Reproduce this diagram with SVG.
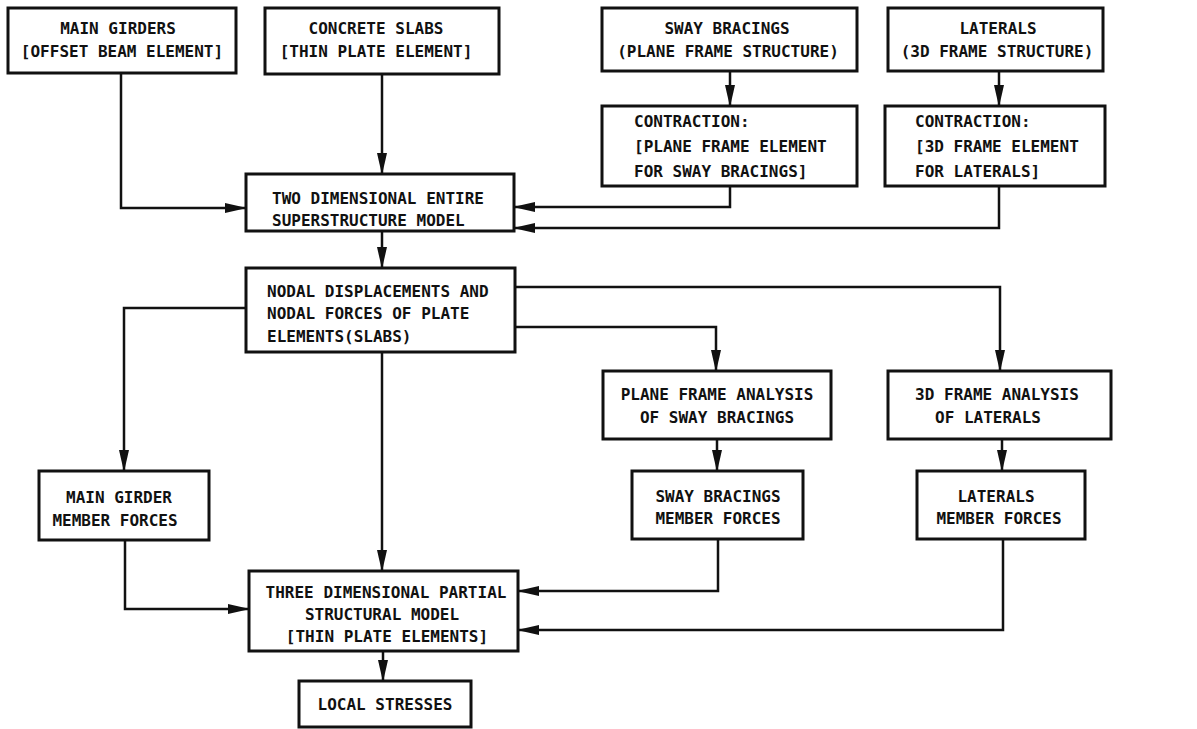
<svg xmlns="http://www.w3.org/2000/svg" width="1197" height="729" viewBox="0 0 1197 729">
<defs>
<marker id="ah" markerUnits="userSpaceOnUse" markerWidth="22" markerHeight="10" refX="21" refY="5" orient="auto">
<path d="M0,0 L22,5 L0,10 z" fill="#111"/>
</marker>
<style>
.box{fill:#fff;stroke:#111;stroke-width:3}
.t{font-family:"DejaVu Sans Mono","Liberation Mono",monospace;font-size:16px;font-weight:bold;fill:#111}
.c{text-anchor:middle}
.ln{fill:none;stroke:#111;stroke-width:2.5}
</style>
</defs>
<rect width="1197" height="729" fill="#fff"/>
<g id="connectors">
<path class="ln" d="M121,73 V208 H246" marker-end="url(#ah)"/>
<path class="ln" d="M382,74 V174" marker-end="url(#ah)"/>
<path class="ln" d="M730,71 V106" marker-end="url(#ah)"/>
<path class="ln" d="M999,71 V106" marker-end="url(#ah)"/>
<path class="ln" d="M730,186 V207 H514" marker-end="url(#ah)"/>
<path class="ln" d="M999,186 V228 H514" marker-end="url(#ah)"/>
<path class="ln" d="M382,231 V268" marker-end="url(#ah)"/>
<path class="ln" d="M246,308 H124 V471" marker-end="url(#ah)"/>
<path class="ln" d="M515,287 H1000 V371" marker-end="url(#ah)"/>
<path class="ln" d="M515,327 H716 V371" marker-end="url(#ah)"/>
<path class="ln" d="M382,352 V571" marker-end="url(#ah)"/>
<path class="ln" d="M717,439 V471" marker-end="url(#ah)"/>
<path class="ln" d="M1002,439 V471" marker-end="url(#ah)"/>
<path class="ln" d="M125,540 V609 H249" marker-end="url(#ah)"/>
<path class="ln" d="M718,539 V591 H518" marker-end="url(#ah)"/>
<path class="ln" d="M1003,539 V630 H518" marker-end="url(#ah)"/>
<path class="ln" d="M383,651 V681" marker-end="url(#ah)"/>
</g>
<g id="main-girders">
<rect class="box" x="8" y="8" width="228" height="65"/>
<text class="t c" x="118" y="34">MAIN GIRDERS</text>
<text class="t c" x="122" y="57">[OFFSET BEAM ELEMENT]</text>
</g>
<g id="concrete-slabs">
<rect class="box" x="265" y="8" width="234" height="66"/>
<text class="t c" x="376" y="34">CONCRETE SLABS</text>
<text class="t c" x="376" y="57">[THIN PLATE ELEMENT]</text>
</g>
<g id="sway-bracings">
<rect class="box" x="602" y="8" width="255" height="63"/>
<text class="t c" x="727" y="34">SWAY BRACINGS</text>
<text class="t c" x="728" y="57">(PLANE FRAME STRUCTURE)</text>
</g>
<g id="laterals">
<rect class="box" x="888" y="8" width="215" height="63"/>
<text class="t c" x="998" y="34">LATERALS</text>
<text class="t c" x="997" y="57">(3D FRAME STRUCTURE)</text>
</g>
<g id="contraction-sway">
<rect class="box" x="602" y="106" width="255" height="80"/>
<text class="t" x="634" y="127">CONTRACTION:</text>
<text class="t" x="634" y="152">[PLANE FRAME ELEMENT</text>
<text class="t" x="634" y="177">FOR SWAY BRACINGS]</text>
</g>
<g id="contraction-laterals">
<rect class="box" x="885" y="106" width="220" height="80"/>
<text class="t" x="915" y="127">CONTRACTION:</text>
<text class="t" x="915" y="152">[3D FRAME ELEMENT</text>
<text class="t" x="915" y="177">FOR LATERALS]</text>
</g>
<g id="two-dimensional-model">
<rect class="box" x="246" y="174" width="268" height="57"/>
<text class="t" x="272" y="204">TWO DIMENSIONAL ENTIRE</text>
<text class="t" x="272" y="226">SUPERSTRUCTURE MODEL</text>
</g>
<g id="nodal-displacements">
<rect class="box" x="246" y="268" width="269" height="84"/>
<text class="t" x="267" y="297">NODAL DISPLACEMENTS AND</text>
<text class="t" x="267" y="319">NODAL FORCES OF PLATE</text>
<text class="t" x="267" y="342">ELEMENTS(SLABS)</text>
</g>
<g id="plane-frame-analysis">
<rect class="box" x="603" y="371" width="228" height="68"/>
<text class="t c" x="717" y="400">PLANE FRAME ANALYSIS</text>
<text class="t c" x="717" y="423">OF SWAY BRACINGS</text>
</g>
<g id="frame-analysis-3d">
<rect class="box" x="888" y="371" width="223" height="68"/>
<text class="t c" x="997" y="400">3D FRAME ANALYSIS</text>
<text class="t c" x="988" y="423">OF LATERALS</text>
</g>
<g id="main-girder-forces">
<rect class="box" x="39" y="471" width="170" height="69"/>
<text class="t c" x="119" y="503">MAIN GIRDER</text>
<text class="t c" x="115" y="526">MEMBER FORCES</text>
</g>
<g id="sway-member-forces">
<rect class="box" x="632" y="471" width="171" height="68"/>
<text class="t c" x="718" y="502">SWAY BRACINGS</text>
<text class="t c" x="718" y="524">MEMBER FORCES</text>
</g>
<g id="laterals-member-forces">
<rect class="box" x="917" y="471" width="168" height="68"/>
<text class="t c" x="996" y="502">LATERALS</text>
<text class="t c" x="999" y="524">MEMBER FORCES</text>
</g>
<g id="three-dimensional-model">
<rect class="box" x="249" y="571" width="269" height="80"/>
<text class="t c" x="386" y="598">THREE DIMENSIONAL PARTIAL</text>
<text class="t c" x="382" y="620">STRUCTURAL MODEL</text>
<text class="t c" x="387" y="642">[THIN PLATE ELEMENTS]</text>
</g>
<g id="local-stresses">
<rect class="box" x="299" y="681" width="172" height="46"/>
<text class="t c" x="385" y="710">LOCAL STRESSES</text>
</g>
</svg>
